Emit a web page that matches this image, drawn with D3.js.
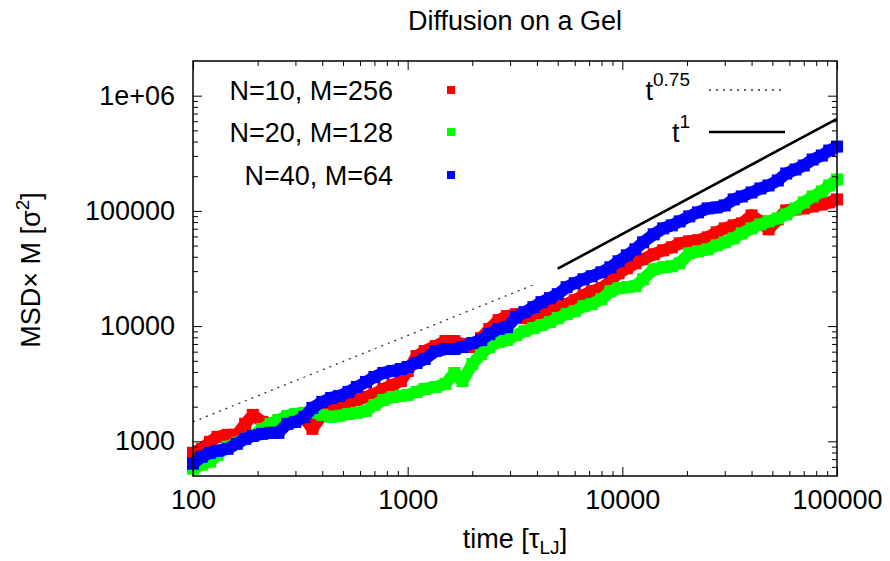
<!DOCTYPE html>
<html>
<head>
<meta charset="utf-8">
<script src="https://cdn.jsdelivr.net/npm/d3@7"></script>
<style>
  body { margin: 0; background: #fff; }
  svg { display: block; font-family: "Liberation Sans", Arial, sans-serif; }
</style>
</head>
<body>
<svg id="chart" width="890" height="561"></svg>
<script>
/// Mean squared displacement curves.

var times = [100, 110, 120, 130, 145, 160, 175, 190, 210, 230,
    250, 275, 300, 330, 360, 400, 440, 480, 530, 580,
    640, 700, 770, 850, 930, 1000, 1100, 1200, 1350, 1500,
    1650, 1800, 2000, 2200, 2400, 2650, 2900, 3200, 3500, 3850,
    4200, 4600, 5000, 5500, 6000, 6600, 7200, 8000, 8800, 9600,
    10500, 11500, 12500, 14000, 15500, 17000, 18500, 20500, 22500, 25000,
    27500, 30000, 33000, 36000, 40000, 44000, 48000, 53000, 58000, 64000,
    70000, 77000, 85000, 92000, 100000];

var msdN10 = [795, 861, 990, 1094, 1138, 1138, 1418, 1696, 1475, 1418,
    1505, 1598, 1663, 1598, 1283, 1696, 2029, 2070, 2154, 2287,
    2428, 2578, 2848, 3085, 3341, 4080, 5500, 6074, 6711, 7417,
    7417, 6986, 6580, 7874, 9419, 11270, 12210, 12700, 11730, 11500,
    12700, 13750, 14600, 15500, 16800, 18550, 20090, 21330, 24520, 28760,
    31780, 35120, 38030, 42020, 45500, 48310, 52320, 54440, 55540, 58960,
    65140, 70560, 74920, 78000, 91400, 81140, 69170, 84420, 101000, 103000,
    105100, 109400, 113800, 118500, 125800];

var msdN20 = [578, 626, 665, 764, 897, 971, 1051, 1116, 1283, 1418,
    1535, 1663, 1730, 1765, 1800, 1696, 1630, 1663, 1730, 1765,
    1837, 2070, 2287, 2428, 2477, 2527, 2683, 2848, 2965, 3147,
    3919, 3341, 4688, 5722, 6580, 7268, 7566, 8359, 9050, 9610,
    10200, 10830, 11730, 12700, 13490, 14900, 15500, 17130, 20090, 21330,
    21770, 22200, 25530, 31150, 32420, 33070, 35120, 42860, 44610, 46420,
    50270, 53380, 57810, 63860, 70560, 76390, 81140, 86100, 93260, 105100,
    118500, 133500, 147500, 166300, 187400];

var msdN40 = [639, 734, 795, 828, 861, 952, 1051, 1116, 1161, 1185,
    1185, 1418, 1475, 1630, 1950, 2198, 2380, 2477, 2683, 2965,
    3275, 3618, 3919, 4078, 4243, 4416, 4783, 5180, 6074, 6322,
    6322, 6580, 7126, 7566, 8526, 9419, 9802, 11960, 13220, 14600,
    16140, 17480, 18930, 21770, 23580, 25530, 27100, 29350, 32420, 36550,
    41190, 46420, 53380, 62590, 70560, 74920, 81140, 89630, 97050, 105100,
    107200, 111600, 125800, 133500, 144600, 156600, 166300, 183700, 211200, 228700,
    247700, 279200, 302400, 334100, 361800];

var seriesNames = ["N=10, M=256", "N=20, M=128", "N=40, M=64"];
var seriesColors = ["#ff0000", "#00ff00", "#0000ff"];
var seriesValues = [msdN10, msdN20, msdN40];

var xTicks = [100, 1000, 10000, 100000];
var xMinorTicks = [200, 300, 400, 500, 600, 700, 800, 900,
    2000, 3000, 4000, 5000, 6000, 7000, 8000, 9000,
    20000, 30000, 40000, 50000, 60000, 70000, 80000, 90000];
var yTicks = [1000, 10000, 100000, 1000000];
var yTickLabels = ["1000", "10000", "100000", "1e+06"];
var yMinorTicks = [600, 700, 800, 900,
    2000, 3000, 4000, 5000, 6000, 7000, 8000, 9000,
    20000, 30000, 40000, 50000, 60000, 70000, 80000, 90000,
    200000, 300000, 400000, 500000, 600000, 700000, 800000, 900000];

/// power laws: coefficient, exponent, start and end time
var slowLaw = [46.6, 0.75, 100, 4000];
var fastLaw = [6.3, 1, 5000, 100000];

var plot = {left: 193, right: 837, top: 61, bottom: 476};

var x = d3.scaleLog().domain([100, 100000]).range([plot.left, plot.right]);
var y = d3.scaleLog().domain([500, 2000000]).range([plot.bottom, plot.top]);

var svg = d3.select("#chart");

/// Data bands (drawn first, frame on top)
var line = d3.line()
    .x(d => x(d[0]))
    .y(d => y(d[1]));

seriesValues.forEach(function(vals, k) {
    var pts = times.map((t, i) => [t, vals[i]]);
    var g = svg.append("g");
    g.append("path")
        .attr("d", line(pts))
        .attr("fill", "none")
        .attr("stroke", seriesColors[k])
        .attr("stroke-width", 12)
        .attr("stroke-linejoin", "round");
    g.selectAll("rect")
        .data(pts)
        .enter()
        .append("rect")
        .attr("x", d => x(d[0]) - 6)
        .attr("y", d => y(d[1]) - 6)
        .attr("width", 12)
        .attr("height", 12)
        .attr("fill", seriesColors[k]);
});

/// Power law guides
function lawPoints(law) {
    return [law[2], law[3]].map(t => [t, law[0] * Math.pow(t, law[1])]);
}
svg.append("path")
    .attr("d", line(lawPoints(slowLaw)))
    .attr("stroke", "#333")
    .attr("stroke-width", 1.3)
    .attr("stroke-dasharray", "2,5")
    .attr("fill", "none");
svg.append("path")
    .attr("d", line(lawPoints(fastLaw)))
    .attr("stroke", "#000")
    .attr("stroke-width", 2.6)
    .attr("fill", "none");

/// Axes: ticks pointing inward on all four sides
function fmtX(d) { return d3.format("d")(d); }

svg.append("g").attr("transform", "translate(0," + plot.bottom + ")")
    .call(d3.axisBottom(x).tickValues(xTicks).tickSize(-9).tickPadding(14).tickFormat(fmtX));
svg.append("g").attr("transform", "translate(0," + plot.bottom + ")")
    .call(d3.axisBottom(x).tickValues(xMinorTicks).tickSize(-5).tickFormat(""));
svg.append("g").attr("transform", "translate(0," + plot.top + ")")
    .call(d3.axisTop(x).tickValues(xTicks).tickSize(-9).tickFormat(""));
svg.append("g").attr("transform", "translate(0," + plot.top + ")")
    .call(d3.axisTop(x).tickValues(xMinorTicks).tickSize(-5).tickFormat(""));

svg.append("g").attr("transform", "translate(" + plot.left + ",0)")
    .call(d3.axisLeft(y).tickValues(yTicks).tickSize(-9).tickPadding(18)
        .tickFormat((d, i) => yTickLabels[i]));
svg.append("g").attr("transform", "translate(" + plot.left + ",0)")
    .call(d3.axisLeft(y).tickValues(yMinorTicks).tickSize(-5).tickFormat(""));
svg.append("g").attr("transform", "translate(" + plot.right + ",0)")
    .call(d3.axisRight(y).tickValues(yTicks).tickSize(-9).tickFormat(""));
svg.append("g").attr("transform", "translate(" + plot.right + ",0)")
    .call(d3.axisRight(y).tickValues(yMinorTicks).tickSize(-5).tickFormat(""));

svg.selectAll(".domain").remove();
svg.selectAll(".tick line").attr("stroke", "#000").attr("stroke-width", 1);
svg.selectAll(".tick text")
    .attr("font-family", "Liberation Sans, Arial, sans-serif")
    .attr("font-size", 27)
    .attr("fill", "#000");

svg.append("rect")
    .attr("x", plot.left)
    .attr("y", plot.top)
    .attr("width", plot.right - plot.left)
    .attr("height", plot.bottom - plot.top)
    .attr("fill", "none")
    .attr("stroke", "#000")
    .attr("stroke-width", 1.5);

/// Titles
svg.append("text")
    .attr("x", 515).attr("y", 30)
    .attr("text-anchor", "middle")
    .attr("font-size", 27)
    .text("Diffusion on a Gel");

var xl = svg.append("text")
    .attr("x", 515).attr("y", 548)
    .attr("text-anchor", "middle")
    .attr("font-size", 27);
xl.append("tspan").text("time [\u03c4");
xl.append("tspan").attr("dy", 6).attr("font-size", 19).text("LJ");
xl.append("tspan").attr("dy", -6).text("]");

var yl = svg.append("text")
    .attr("transform", "translate(40,270) rotate(-90)")
    .attr("text-anchor", "middle")
    .attr("font-size", 27);
yl.append("tspan").text("MSD\u00d7 M [\u03c3");
yl.append("tspan").attr("dy", -11).attr("font-size", 19).text("2");
yl.append("tspan").attr("dy", 11).text("]");

/// Legend
var keyY = [90, 132, 175];
seriesNames.forEach(function(name, k) {
    svg.append("text")
        .attr("x", 393).attr("y", keyY[k] + 10)
        .attr("text-anchor", "end")
        .attr("font-size", 27)
        .text(name);
    svg.append("rect")
        .attr("x", 447).attr("y", keyY[k] - 4)
        .attr("width", 8).attr("height", 8)
        .attr("fill", seriesColors[k]);
});

var lawKeys = [["0.75", "2,5", 1.3, "#333"], ["1", null, 2.6, "#000"]];
lawKeys.forEach(function(kk, k) {
    var ty = keyY[k];
    var tx = svg.append("text")
        .attr("x", 690).attr("y", ty + 10)
        .attr("text-anchor", "end")
        .attr("font-size", 27);
    tx.append("tspan").text("t");
    tx.append("tspan").attr("dy", -14).attr("font-size", 19).text(kk[0]);
    svg.append("line")
        .attr("x1", 709).attr("x2", 785)
        .attr("y1", ty).attr("y2", ty)
        .attr("stroke", kk[3])
        .attr("stroke-width", kk[2])
        .attr("stroke-dasharray", kk[1]);
});
</script>
</body>
</html>
